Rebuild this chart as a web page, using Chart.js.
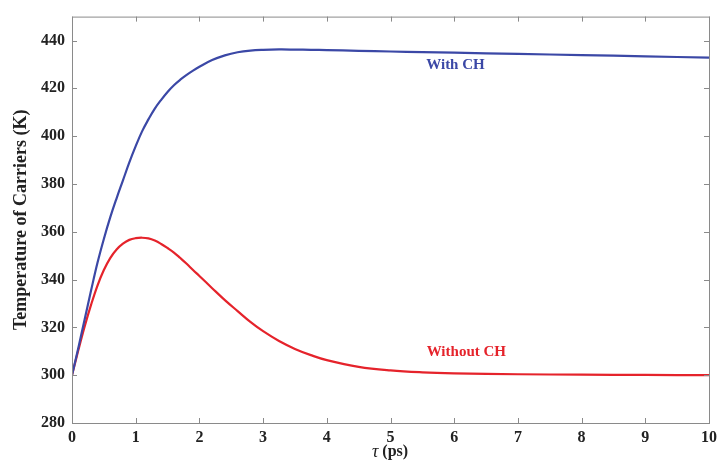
<!DOCTYPE html>
<html>
<head>
<meta charset="utf-8">
<script src="https://cdn.jsdelivr.net/npm/chart.js@4"></script>
<style>
  html, body { margin: 0; padding: 0; background: #fff; }
  #wrap { width: 724px; height: 468px; }
</style>
</head>
<body>
<div id="wrap"><canvas id="tempChart" width="724" height="468"></canvas></div>
<script>
// time axis (ps)
const tau = [0, 0.1, 0.2, 0.3, 0.4, 0.5, 0.6, 0.7, 0.8, 0.9, 1.0, 1.1, 1.2, 1.3, 1.4, 1.5, 1.6, 1.7, 1.8, 1.9, 2.0,
             2.2, 2.4, 2.6, 2.8, 3.0, 3.25, 3.5, 3.75, 4.0, 4.5, 5, 5.5, 6, 7, 8, 9, 10];
// carrier temperature (K)
const withCH = [300, 311.5, 323.5, 335.5, 347, 357, 366, 374, 381.5, 389, 395.8, 402, 407, 411.5, 415.2, 418.5, 421.3, 423.6, 425.6, 427.4, 429,
                431.8, 433.8, 435.1, 435.8, 436.1, 436.25, 436.2, 436.1, 436, 435.7, 435.4, 435.15, 434.9, 434.4, 433.9, 433.4, 432.8];
const withoutCH = [300, 310.5, 320.5, 329.5, 337.5, 344, 349, 352.6, 355, 356.6, 357.3, 357.5, 357.2, 356.3, 354.9, 353.2, 351.3, 349, 346.6, 344, 341.5,
                   336.4, 331.4, 326.8, 322.3, 318.4, 314.3, 311, 308.4, 306.3, 303.5, 302, 301.2, 300.8, 300.4, 300.2, 300.1, 300];

const xTicks = [0, 1, 2, 3, 4, 5, 6, 7, 8, 9, 10];
const yTicks = [280, 300, 320, 340, 360, 380, 400, 420, 440];

const seriesNames = ['With CH', 'Without CH'];
const seriesColors = ['#3b48a6', '#e5232b'];
// where the curve names sit, in data units
const labelPos = [{ x: 6.02, y: 429.8 }, { x: 6.19, y: 309.8 }];

const serif = '"Liberation Serif", "Times New Roman", serif';

function toPoints(ys) {
    return tau.map((t, i) => ({ x: t, y: ys[i] }));
}

// MATLAB-like box with inward ticks, axis titles and curve names
const boxPlugin = {
    id: 'boxPlugin',
    afterDraw(chart) {
        const { ctx, chartArea: a, scales } = chart;
        const tl = 5;
        ctx.save();
        ctx.strokeStyle = '#8a8a8a';
        ctx.lineWidth = 1;
        ctx.strokeRect(a.left + 0.5, a.top + 0.5, a.right - a.left, a.bottom - a.top);
        ctx.beginPath();
        xTicks.forEach(v => {
            const px = Math.round(scales.x.getPixelForValue(v)) + 0.5;
            ctx.moveTo(px, a.bottom); ctx.lineTo(px, a.bottom - tl);
            ctx.moveTo(px, a.top); ctx.lineTo(px, a.top + tl);
        });
        yTicks.forEach(v => {
            const py = Math.round(scales.y.getPixelForValue(v)) + 0.5;
            ctx.moveTo(a.left, py); ctx.lineTo(a.left + tl, py);
            ctx.moveTo(a.right, py); ctx.lineTo(a.right - tl, py);
        });
        ctx.stroke();

        // y title
        ctx.fillStyle = '#222';
        ctx.textAlign = 'center';
        ctx.textBaseline = 'middle';
        ctx.save();
        ctx.translate(21, (a.top + a.bottom) / 2);
        ctx.rotate(-Math.PI / 2);
        ctx.font = 'bold 18px ' + serif;
        ctx.fillText('Temperature of Carriers (K)', 0, 0);
        ctx.restore();

        // x title: italic tau + bold (ps)
        ctx.font = 'italic 18px ' + serif;
        const w1 = ctx.measureText('τ').width;
        ctx.font = 'bold 16px ' + serif;
        const w2 = ctx.measureText(' (ps)').width;
        const cx = 390;
        const start = cx - (w1 + w2) / 2;
        ctx.textAlign = 'left';
        ctx.font = 'italic 18px ' + serif;
        ctx.fillText('τ', start, 452);
        ctx.font = 'bold 16px ' + serif;
        ctx.fillText(' (ps)', start + w1, 452);

        // curve names
        ctx.textAlign = 'center';
        ctx.font = 'bold 15px ' + serif;
        seriesNames.forEach((name, i) => {
            ctx.fillStyle = seriesColors[i];
            ctx.fillText(name, scales.x.getPixelForValue(labelPos[i].x), scales.y.getPixelForValue(labelPos[i].y));
        });
        ctx.restore();
    }
};

const ctx = document.getElementById('tempChart').getContext('2d');
new Chart(ctx, {
    type: 'line',
    data: {
        datasets: [
            { label: seriesNames[0], data: toPoints(withCH), borderColor: seriesColors[0], borderWidth: 2.2, pointRadius: 0, tension: 0.4, fill: false },
            { label: seriesNames[1], data: toPoints(withoutCH), borderColor: seriesColors[1], borderWidth: 2.2, pointRadius: 0, tension: 0.4, fill: false }
        ]
    },
    options: {
        responsive: false,
        animation: false,
        layout: { padding: { top: 13, right: 10, left: 0, bottom: 0 } },
        plugins: { legend: { display: false }, tooltip: { enabled: false } },
        scales: {
            x: {
                type: 'linear',
                min: 0,
                max: 10,
                grid: { display: false, drawTicks: false },
                border: { display: false },
                afterBuildTicks: s => { s.ticks = xTicks.map(v => ({ value: v })); },
                afterFit: s => { s.height = 45; },
                ticks: {
                    color: '#222',
                    padding: 7,
                    maxRotation: 0,
                    font: { family: serif, size: 16, weight: 'bold', lineHeight: 1 }
                }
            },
            y: {
                min: 280,
                max: 450,
                grid: { display: false, drawTicks: false },
                border: { display: false },
                afterBuildTicks: s => { s.ticks = yTicks.map(v => ({ value: v })); },
                afterFit: s => { s.width = 72; },
                ticks: {
                    color: '#222',
                    padding: 7,
                    font: { family: serif, size: 16, weight: 'bold' }
                }
            }
        }
    },
    plugins: [boxPlugin]
});
</script>
</body>
</html>
